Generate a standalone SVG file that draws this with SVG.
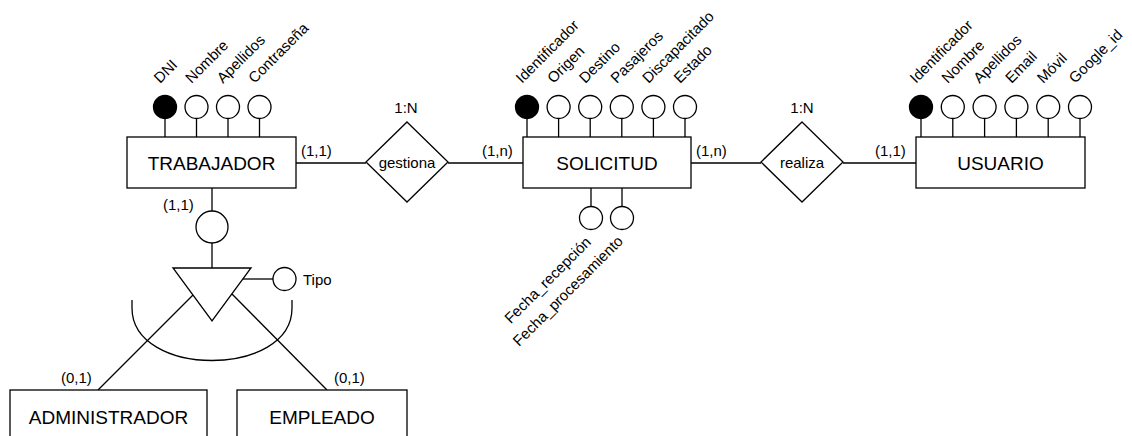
<svg xmlns="http://www.w3.org/2000/svg" width="1132" height="436" viewBox="0 0 1132 436">
  <style>
    .box { fill: #ffffff; stroke: #000000; stroke-width: 1.3; }
    .ln { fill: none; stroke: #000000; stroke-width: 1.3; }
    .att { fill: #ffffff; stroke: #000000; stroke-width: 1.3; }
    .key { fill: #000000; stroke: #000000; stroke-width: 1.3; }
    text { font-family: "Liberation Sans", Arial, Helvetica, sans-serif; fill: #000000; }
    .ent { font-size: 19px; text-anchor: middle; }
    .lbl { font-size: 15px; }
    .mid { text-anchor: middle; }
    .end { text-anchor: end; }
  </style>
  <rect width="1132" height="436" fill="#ffffff"/>

  <!-- connectors -->
  <g id="connectors">
    <line class="ln" x1="296" y1="163" x2="366" y2="163"/>
    <line class="ln" x1="448" y1="163" x2="523" y2="163"/>
    <line class="ln" x1="691" y1="163" x2="761" y2="163"/>
    <line class="ln" x1="843" y1="163" x2="916" y2="163"/>
    <text class="lbl" x="301" y="156">(1,1)</text>
    <text class="lbl" x="482" y="156">(1,n)</text>
    <text class="lbl" x="696" y="156">(1,n)</text>
    <text class="lbl" x="875" y="156">(1,1)</text>
    <!-- specialization of TRABAJADOR -->
    <line class="ln" x1="212" y1="188" x2="212" y2="211"/>
    <line class="ln" x1="212" y1="243" x2="212" y2="268"/>
    <line class="ln" x1="193" y1="295" x2="98" y2="390"/>
    <line class="ln" x1="232" y1="294" x2="327" y2="390"/>
    <line class="ln" x1="243" y1="279" x2="273" y2="279"/>
    <path class="ln" d="M132,300 L132,308 C132,378 292,378 292,308 L292,300"/>
    <text class="lbl" x="163" y="210">(1,1)</text>
    <text class="lbl" x="61" y="383">(0,1)</text>
    <text class="lbl" x="334" y="383">(0,1)</text>
  </g>

  <!-- TRABAJADOR -->
  <g id="trabajador">
    <line class="ln" x1="165" y1="118.5" x2="165" y2="137"/>
    <line class="ln" x1="196.5" y1="118.5" x2="196.5" y2="137"/>
    <line class="ln" x1="228" y1="118.5" x2="228" y2="137"/>
    <line class="ln" x1="259.5" y1="118.5" x2="259.5" y2="137"/>
    <circle class="key" cx="165" cy="107" r="11.5"/>
    <circle class="att" cx="196.5" cy="107" r="11.5"/>
    <circle class="att" cx="228" cy="107" r="11.5"/>
    <circle class="att" cx="259.5" cy="107" r="11.5"/>
    <text class="lbl" x="160" y="84" transform="rotate(-45 160 84)">DNI</text>
    <text class="lbl" x="191.5" y="84" transform="rotate(-45 191.5 84)">Nombre</text>
    <text class="lbl" x="223" y="84" transform="rotate(-45 223 84)">Apellidos</text>
    <text class="lbl" x="254.5" y="84" transform="rotate(-45 254.5 84)">Contraseña</text>
    <rect class="box" x="127" y="137" width="169" height="51"/>
    <text class="ent" x="211.5" y="170">TRABAJADOR</text>
  </g>

  <!-- gestiona -->
  <g id="gestiona">
    <polygon class="box" points="407,122 448,162 407,202 366,162"/>
    <text class="lbl mid" x="407" y="168">gestiona</text>
    <text class="lbl mid" x="406" y="113">1:N</text>
  </g>

  <!-- SOLICITUD -->
  <g id="solicitud">
    <line class="ln" x1="527" y1="118.5" x2="527" y2="137"/>
    <line class="ln" x1="558.6" y1="118.5" x2="558.6" y2="137"/>
    <line class="ln" x1="590.2" y1="118.5" x2="590.2" y2="137"/>
    <line class="ln" x1="621.8" y1="118.5" x2="621.8" y2="137"/>
    <line class="ln" x1="653.4" y1="118.5" x2="653.4" y2="137"/>
    <line class="ln" x1="685" y1="118.5" x2="685" y2="137"/>
    <circle class="key" cx="527" cy="107" r="11.5"/>
    <circle class="att" cx="558.6" cy="107" r="11.5"/>
    <circle class="att" cx="590.2" cy="107" r="11.5"/>
    <circle class="att" cx="621.8" cy="107" r="11.5"/>
    <circle class="att" cx="653.4" cy="107" r="11.5"/>
    <circle class="att" cx="685" cy="107" r="11.5"/>
    <text class="lbl" x="522" y="84" transform="rotate(-45 522 84)">Identificador</text>
    <text class="lbl" x="553.6" y="84" transform="rotate(-45 553.6 84)">Origen</text>
    <text class="lbl" x="585.2" y="84" transform="rotate(-45 585.2 84)">Destino</text>
    <text class="lbl" x="616.8" y="84" transform="rotate(-45 616.8 84)">Pasajeros</text>
    <text class="lbl" x="648.4" y="84" transform="rotate(-45 648.4 84)">Discapacitado</text>
    <text class="lbl" x="680" y="84" transform="rotate(-45 680 84)">Estado</text>
    <line class="ln" x1="591" y1="188" x2="591" y2="206.5"/>
    <line class="ln" x1="622" y1="188" x2="622" y2="206.5"/>
    <circle class="att" cx="591" cy="218" r="11.5"/>
    <circle class="att" cx="622" cy="218" r="11.5"/>
    <text class="lbl end" x="592" y="243" transform="rotate(-45 592 243)">Fecha_recepción</text>
    <text class="lbl end" x="624" y="242" transform="rotate(-45 624 242)">Fecha_procesamiento</text>
    <rect class="box" x="523" y="137" width="168" height="51"/>
    <text class="ent" x="607" y="170">SOLICITUD</text>
  </g>

  <!-- realiza -->
  <g id="realiza">
    <polygon class="box" points="802,122 843,162 802,202 761,162"/>
    <text class="lbl mid" x="802" y="168">realiza</text>
    <text class="lbl mid" x="802" y="113">1:N</text>
  </g>

  <!-- USUARIO -->
  <g id="usuario">
    <line class="ln" x1="921" y1="118.5" x2="921" y2="137"/>
    <line class="ln" x1="952.8" y1="118.5" x2="952.8" y2="137"/>
    <line class="ln" x1="984.6" y1="118.5" x2="984.6" y2="137"/>
    <line class="ln" x1="1016.4" y1="118.5" x2="1016.4" y2="137"/>
    <line class="ln" x1="1048.2" y1="118.5" x2="1048.2" y2="137"/>
    <line class="ln" x1="1080" y1="118.5" x2="1080" y2="137"/>
    <circle class="key" cx="921" cy="107" r="11.5"/>
    <circle class="att" cx="952.8" cy="107" r="11.5"/>
    <circle class="att" cx="984.6" cy="107" r="11.5"/>
    <circle class="att" cx="1016.4" cy="107" r="11.5"/>
    <circle class="att" cx="1048.2" cy="107" r="11.5"/>
    <circle class="att" cx="1080" cy="107" r="11.5"/>
    <text class="lbl" x="916" y="84" transform="rotate(-45 916 84)">Identificador</text>
    <text class="lbl" x="947.8" y="84" transform="rotate(-45 947.8 84)">Nombre</text>
    <text class="lbl" x="979.6" y="84" transform="rotate(-45 979.6 84)">Apellidos</text>
    <text class="lbl" x="1011.4" y="84" transform="rotate(-45 1011.4 84)">Email</text>
    <text class="lbl" x="1043.2" y="84" transform="rotate(-45 1043.2 84)">Móvil</text>
    <text class="lbl" x="1075" y="84" transform="rotate(-45 1075 84)">Google_id</text>
    <rect class="box" x="916" y="137" width="169" height="51"/>
    <text class="ent" x="1000.5" y="170">USUARIO</text>
  </g>

  <!-- ISA junction -->
  <g id="isa">
    <circle class="att" cx="212" cy="227" r="16"/>
    <polygon class="box" points="173,268 251,268 212,321"/>
    <circle class="att" cx="284.5" cy="279" r="11.5"/>
    <text class="lbl" x="303" y="285">Tipo</text>
  </g>

  <!-- ADMINISTRADOR -->
  <g id="administrador">
    <rect class="box" x="10" y="390" width="197" height="51"/>
    <text class="ent" x="108.5" y="424">ADMINISTRADOR</text>
  </g>

  <!-- EMPLEADO -->
  <g id="empleado">
    <rect class="box" x="237" y="390" width="170" height="51"/>
    <text class="ent" x="322" y="424">EMPLEADO</text>
  </g>
</svg>
